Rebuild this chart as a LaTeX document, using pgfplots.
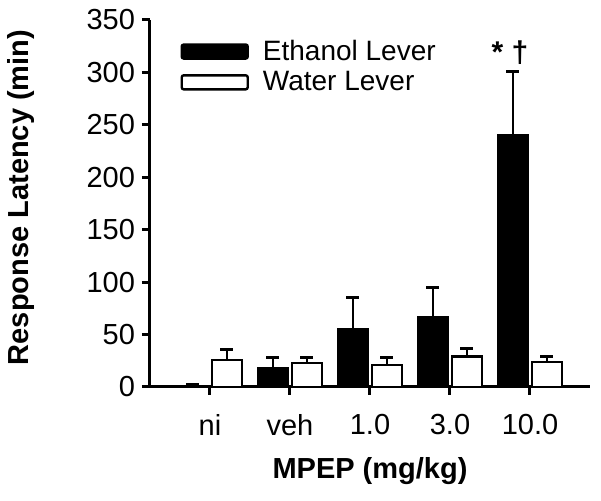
\documentclass[border=0pt]{standalone}
\usepackage{fontspec}
\setmainfont{Liberation Sans}
\usepackage{pgfplots}
\pgfplotsset{compat=1.18}

\begin{document}
\begin{tikzpicture}
\useasboundingbox (-75pt,-57pt) rectangle (225.5pt,193.5pt);
\begin{axis}[
	at={(0,0)}, anchor=south west,
	scale only axis, width=220pt, height=183.5pt,
	axis x line=bottom, axis y line=left,
	axis line style={-, line width=1.5pt},
	every tick/.style={black, line width=1.5pt},
	tick align=outside, major tick length=4pt,
	xmin=-0.75, xmax=4.75,
	ymin=0, ymax=350,
	ytick={0,50,...,350},
	xtick={0,...,4},
	xticklabels={ni,veh,1.0,3.0,10.0},
	xticklabel style={yshift=-6pt},
	/pgf/number format/assume math mode=true,
	font=\fontsize{14.5}{16}\selectfont,
	ticklabel style={font=\fontsize{14.5}{16}\selectfont},
	xlabel={\bfseries MPEP (mg/kg)},
	ylabel={\bfseries Response Latency (min)},
	xlabel style={yshift=-4pt},
	ylabel style={yshift=19pt, xshift=3pt},
	ybar=2pt, bar width=15pt,
	error bars/y dir=plus, error bars/y explicit,
	error bars/error bar style={line width=1.3pt, black},
	error bars/error mark options={rotate=90, mark size=3.25pt, line width=1.5pt, black},
	legend style={draw=none, fill=none, at={(0.073,0.955)}, anchor=north west,
		xshift=-4pt, yshift=2.5pt,
		font=\fontsize{14}{16}\selectfont, row sep=0pt},
	legend cell align=left,
	legend image code/.code={\draw[#1, line width=1.2pt, rounded corners=1pt] (0pt,-3.5pt) rectangle (33pt,3.5pt); \path (38pt,0pt);},
	clip=false,
]
\addplot[fill=black, draw=black, line width=1.2pt] coordinates {
	(0,1) +- (0,1)
	(1,18) +- (0,10)
	(2,55) +- (0,30)
	(3,67) +- (0,28)
	(4,240) +- (0,61)
};
\addplot[fill=white, draw=black, line width=1.2pt] coordinates {
	(0,26) +- (0,10)
	(1,23) +- (0,5)
	(2,21) +- (0,7)
	(3,29) +- (0,8)
	(4,24) +- (0,5)
};
\legend{Ethanol Lever, Water Lever}
\node[font=\fontsize{15}{16}\selectfont\bfseries] at (axis cs:3.75,319) {* †};
\end{axis}
\end{tikzpicture}
\end{document}
